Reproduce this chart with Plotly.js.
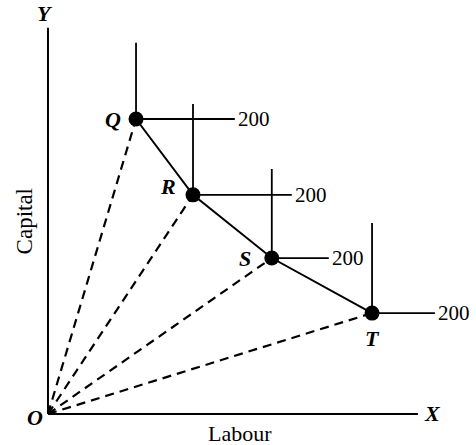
<!DOCTYPE html>
<html>
<head>
<meta charset="utf-8">
<script src="https://cdn.plot.ly/plotly-3.0.1.min.js"></script>
<style>html,body{margin:0;padding:0;background:#fff;}#chart{width:476px;height:445px;}</style>
</head>
<body>
<div id="chart"></div>
<script>
// Data (arbitrary units: Labour on x, Capital on y)
const pointNames = ['Q', 'R', 'S', 'T'];
const labour = [2.38, 3.92, 6.05, 8.76];
const capital = [7.66, 5.69, 4.05, 2.62];
const isoquantTop = [9.64, 8.05, 6.36, 4.96];   // top of vertical arm of each L-shaped isoquant
const isoquantEnd = [5.05, 6.59, 7.59, 10.46];  // end of horizontal arm
const outputLabels = ['200', '200', '200', '200'];
const axisMax = [10.0, 10.03];                   // extent of drawn X and Y axes

const traces = [];
const black = '#000';

// Axes
traces.push({x: [0, axisMax[0]], y: [0, 0], mode: 'lines', line: {color: black, width: 2}, hoverinfo: 'skip'});
traces.push({x: [0, 0], y: [0, axisMax[1]], mode: 'lines', line: {color: black, width: 2}, hoverinfo: 'skip'});

// Rays from origin (dashed)
for (let i = 0; i < labour.length; i++) {
  traces.push({x: [0, labour[i]], y: [0, capital[i]], mode: 'lines',
    line: {color: black, width: 2.2, dash: '9px,6px'}, hoverinfo: 'skip'});
}

// L-shaped isoquants
for (let i = 0; i < labour.length; i++) {
  traces.push({x: [labour[i], labour[i], isoquantEnd[i]], y: [isoquantTop[i], capital[i], capital[i]],
    mode: 'lines', line: {color: black, width: 1.8}, hoverinfo: 'skip'});
}

// Process line joining points
traces.push({x: labour, y: capital, mode: 'lines+markers',
  line: {color: black, width: 2}, marker: {color: black, size: 15}, hoverinfo: 'skip'});

const ann = [];
const serif = 'Liberation Serif, Times New Roman, serif';
// point labels
const offs = [[-23, 0], [-25, 8], [-27, 0], [0, -25]];
for (let i = 0; i < pointNames.length; i++) {
  ann.push({x: labour[i], y: capital[i], xref: 'x', yref: 'y', text: '<b><i>' + pointNames[i] + '</i></b>',
    showarrow: false, xshift: offs[i][0], yshift: offs[i][1],
    font: {family: serif, size: 22, color: black}});
  ann.push({x: isoquantEnd[i], y: capital[i], xref: 'x', yref: 'y', text: outputLabels[i],
    showarrow: false, xanchor: 'left', xshift: 1, yshift: 0,
    font: {family: serif, size: 21, color: black}});
}
ann.push({x: 0, y: axisMax[1], xref: 'x', yref: 'y', text: '<b><i>Y</i></b>', showarrow: false,
  yanchor: 'bottom', xshift: -3, yshift: 0, font: {family: serif, size: 22, color: black}});
ann.push({x: axisMax[0], y: 0, xref: 'x', yref: 'y', text: '<b><i>X</i></b>', showarrow: false,
  xanchor: 'left', xshift: 4, yshift: 1, font: {family: serif, size: 22, color: black}});
ann.push({x: 0, y: 0, xref: 'x', yref: 'y', text: '<b><i>O</i></b>', showarrow: false,
  xanchor: 'right', xshift: -3, yshift: -3, font: {family: serif, size: 22, color: black}});
ann.push({x: 5.2, y: 0, xref: 'x', yref: 'y', text: 'Labour', showarrow: false,
  yanchor: 'top', yshift: -5, font: {family: serif, size: 22, color: black}});
ann.push({x: 0, y: 5.0, xref: 'x', yref: 'y', text: 'Capital', showarrow: false, textangle: -90,
  xshift: -24, font: {family: serif, size: 23, color: black}});

const layout = {
  width: 476, height: 445,
  margin: {l: 0, r: 0, t: 0, b: 0},
  paper_bgcolor: '#fff', plot_bgcolor: '#fff',
  showlegend: false,
  xaxis: {range: [-1.297, 11.57], visible: false, fixedrange: true},
  yaxis: {range: [-0.805, 10.75], visible: false, fixedrange: true},
  annotations: ann
};

Plotly.newPlot('chart', traces, layout, {staticPlot: true});
</script>
</body>
</html>
